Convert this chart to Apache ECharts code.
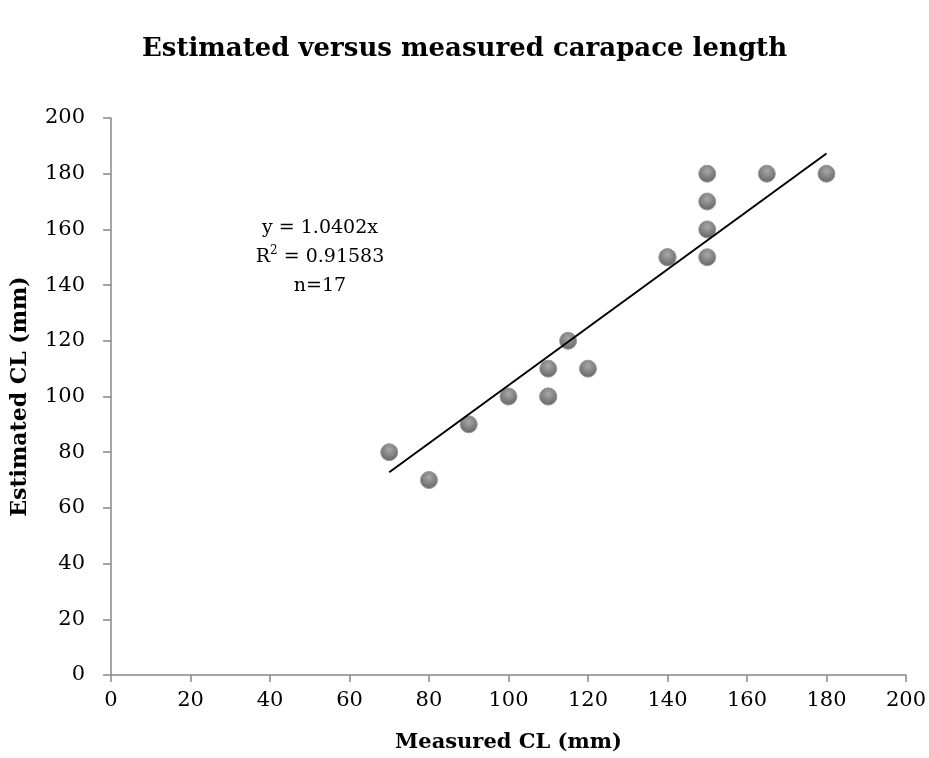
<!DOCTYPE html>
<html><head><meta charset="utf-8">
<script src="https://cdn.jsdelivr.net/npm/echarts@6/dist/echarts.min.js"></script>
<style>html,body{margin:0;padding:0;background:#fff}#c{width:929px;height:758px}</style>
</head><body><div id="c"></div>
<script>
var measured = [70, 80, 90, 100, 110, 110, 110, 115, 120, 140, 140, 150, 150, 150, 150, 165, 180];
var estimated = [80, 70, 90, 100, 100, 100, 110, 120, 110, 150, 150, 150, 160, 170, 180, 180, 180];
var slope = 1.0402;
var trendX = [70, 180];
var xTicks = [0, 20, 40, 60, 80, 100, 120, 140, 160, 180, 200];
var yTicks = [0, 20, 40, 60, 80, 100, 120, 140, 160, 180, 200];
var titleText = 'Estimated versus measured carapace length';
var xName = 'Measured CL (mm)';
var yName = 'Estimated CL (mm)';
var eqLines = ['y = 1.0402x', 'R{sup|2} = 0.91583', 'n=17'];

var pts = measured.map(function (m, i) { return [m, estimated[i]]; });
var trend = trendX.map(function (x) { return [x, slope * x]; });
var FONT = '"DejaVu Serif", serif';

var eqGraphics = eqLines.map(function (t, i) {
  return {
    type: 'text', x: 320, y: 228 + i * 29, z: 10,
    style: {
      text: t, align: 'center', verticalAlign: 'middle', fill: '#000',
      fontFamily: FONT, fontSize: 19,
      rich: { sup: { fontSize: 12, fontFamily: FONT, fill: '#000', padding: [0, 0, 12, 0] } }
    }
  };
});

var chart = echarts.init(document.getElementById('c'));
chart.setOption({
  animation: false,
  backgroundColor: '#fff',
  title: {
    text: titleText, left: 'center', top: 31,
    textStyle: { fontFamily: FONT, fontWeight: 'bold', fontSize: 26, color: '#000' }
  },
  grid: { left: 111, right: 23, top: 118, bottom: 81 },
  xAxis: {
    type: 'value', min: xTicks[0], max: xTicks[xTicks.length - 1], interval: 20,
    name: xName, nameLocation: 'middle', nameGap: 57,
    nameTextStyle: { fontFamily: FONT, fontWeight: 'bold', fontSize: 21, color: '#000' },
    axisLine: { lineStyle: { color: '#888', width: 1.5 } },
    axisTick: { show: true, length: 7, lineStyle: { color: '#888', width: 1.5 } },
    axisLabel: { fontFamily: FONT, fontSize: 21, color: '#000', margin: 15 },
    splitLine: { show: false }
  },
  yAxis: {
    type: 'value', min: yTicks[0], max: yTicks[yTicks.length - 1], interval: 20,
    name: yName, nameLocation: 'middle', nameGap: 80,
    nameTextStyle: { fontFamily: FONT, fontWeight: 'bold', fontSize: 22, color: '#000' },
    axisLine: { show: true, lineStyle: { color: '#888', width: 1.5 } },
    axisTick: { show: true, length: 8, lineStyle: { color: '#888', width: 1.5 } },
    axisLabel: { fontFamily: FONT, fontSize: 21, color: '#000', margin: 26 },
    splitLine: { show: false }
  },
  series: [
    {
      type: 'line', data: trend, symbol: 'none', z: 3,
      lineStyle: { color: '#000', width: 2 }
    },
    {
      type: 'scatter', data: pts, symbol: 'circle', symbolSize: 17, z: 2,
      itemStyle: {
        color: {
          type: 'radial', x: 0.5, y: 0.35, r: 0.7,
          colorStops: [{ offset: 0, color: '#a8a8a8' }, { offset: 1, color: '#5e5e5e' }]
        },
        borderColor: '#9a9a9a', borderWidth: 1, opacity: 1
      }
    }
  ],
  graphic: eqGraphics
});
</script></body></html>
